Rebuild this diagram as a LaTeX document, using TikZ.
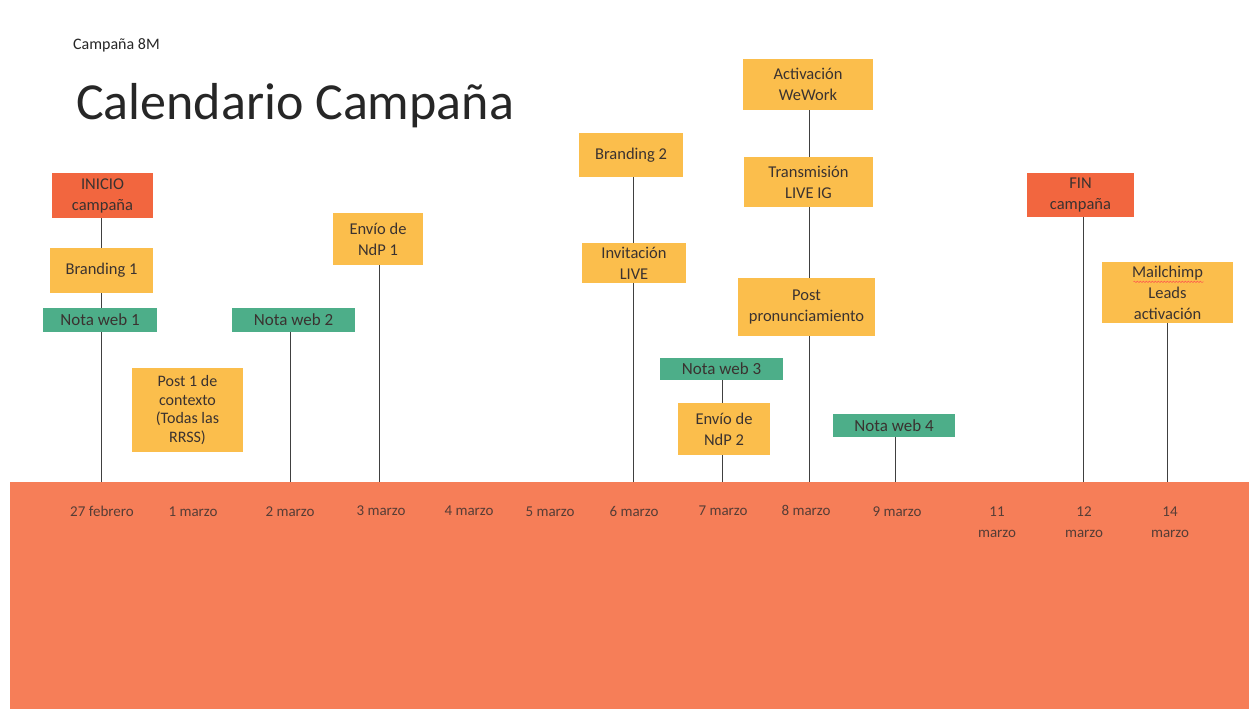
\documentclass[tikz,border=0pt]{standalone}
\usepackage{fontspec}
\setmainfont{Carlito}
\usetikzlibrary{decorations.pathmorphing}
\definecolor{band}{HTML}{F67E58}
\definecolor{redbox}{HTML}{F2663F}
\definecolor{ybox}{HTML}{FBBE4C}
\definecolor{gbox}{HTML}{4DAE89}
\definecolor{txt}{HTML}{3A3230}
\definecolor{conncol}{HTML}{404040}
\begin{document}
\begin{tikzpicture}[x=1pt,y=-1pt,
  box/.style={inner sep=0pt, align=center, text=txt,
    font=\fontsize{16.5}{21}\selectfont},
  yb/.style={box, fill=ybox},
  rb/.style={box, fill=redbox},
  gb/.style={box, fill=gbox, font=\fontsize{17}{19}\selectfont},
  conn/.style={draw=conncol, line width=0.9pt},
  date/.style={text=txt!85!band, align=center, font=\fontsize{15}{21}\selectfont}]
\useasboundingbox (0,0) rectangle (1249,709);
\fill[white] (0,0) rectangle (1249,709);
% band
\fill[band] (10,482) rectangle (1249,709);
% titles
\node[anchor=base west, inner sep=0pt, text=black!85, font=\fontsize{16}{18}\selectfont] (sub) at (73,50) {Campaña 8M};
\node[anchor=base west, inner sep=0pt, text=black!85, font=\fontsize{52}{56}\selectfont] (title) at (76,119) {Calendario Campaña};
% axis coordinates
\coordinate (t27) at (101,482);
\coordinate (t2) at (290,482);
\coordinate (t3) at (379,482);
\coordinate (t6) at (633,482);
\coordinate (t7) at (722,482);
\coordinate (t8) at (809,482);
\coordinate (t9) at (895,482);
\coordinate (t12) at (1083,482);
\coordinate (t14) at (1167,482);
% boxes
\node[rb, minimum width=101, minimum height=45] (inicio) at (102.5,195.5) {INICIO\\campaña};
\node[yb, minimum width=103, minimum height=45] (br1) at (101.5,270.5) {Branding 1};
\node[gb, minimum width=114, minimum height=24] (nw1) at (100,320) {Nota web 1};
\node[yb, minimum width=111, minimum height=84, font=\fontsize{16}{18.5}\selectfont] (post1) at (187.5,410) {Post 1 de\\contexto\\(Todas las\\RRSS)};
\node[gb, minimum width=123, minimum height=24] (nw2) at (293.5,320) {Nota web 2};
\node[yb, minimum width=90, minimum height=52] (ndp1) at (378,239) {Envío de\\NdP 1};
\node[yb, minimum width=104, minimum height=44] (br2) at (631,155) {Branding 2};
\node[yb, minimum width=104, minimum height=40] (inv) at (634,263) {Invitación\\LIVE};
\node[yb, minimum width=130, minimum height=51] (act) at (808,84.5) {Activación\\WeWork};
\node[yb, minimum width=129, minimum height=50] (trans) at (808.5,182) {Transmisión\\LIVE IG};
\node[yb, minimum width=137, minimum height=58] (postp) at (806.5,307) {Post\\pronunciamiento};
\node[gb, minimum width=123, minimum height=22] (nw3) at (721.5,369) {Nota web 3};
\node[yb, minimum width=92, minimum height=52] (ndp2) at (724,429) {Envío de\\NdP 2};
\node[gb, minimum width=122, minimum height=23] (nw4) at (894,425.5) {Nota web 4};
\node[rb, minimum width=107, minimum height=44] (fin) at (1080.5,195) {FIN\\campaña};
\node[yb, minimum width=131, minimum height=61] (mail) at (1167.5,292.5) {Mailchimp\\Leads\\activación};
% spell-check squiggle under "Mailchimp"
\draw[red!70, line width=0.45pt, decorate, decoration={snake, amplitude=0.7pt, segment length=3pt}]
  ([xshift=-34pt, yshift=-20pt]mail.north) -- ([xshift=36pt, yshift=-20pt]mail.north);
% connectors
\draw[conn] (inicio.south -| t27) -- (br1.north -| t27);
\draw[conn] (br1.south -| t27) -- (nw1.north -| t27);
\draw[conn] (nw1.south -| t27) -- (t27);
\draw[conn] (nw2.south -| t2) -- (t2);
\draw[conn] (ndp1.south -| t3) -- (t3);
\draw[conn] (br2.south -| t6) -- (inv.north -| t6);
\draw[conn] (inv.south -| t6) -- (t6);
\draw[conn] (act.south -| t8) -- (trans.north -| t8);
\draw[conn] (trans.south -| t8) -- (postp.north -| t8);
\draw[conn] (postp.south -| t8) -- (t8);
\draw[conn] (nw3.south -| t7) -- (ndp2.north -| t7);
\draw[conn] (ndp2.south -| t7) -- (t7);
\draw[conn] (nw4.south -| t9) -- (t9);
\draw[conn] (fin.south -| t12) -- (t12);
\draw[conn] (mail.south -| t14) -- (t14);
% dates
\node[date, anchor=base] (d27) at (102,516) {27 febrero};
\node[date, anchor=base] (d1) at (193,516) {1 marzo};
\node[date, anchor=base] (d2) at (290,516) {2 marzo};
\node[date, anchor=base] (d3) at (381,515) {3 marzo};
\node[date, anchor=base] (d4) at (469,515) {4 marzo};
\node[date, anchor=base] (d5) at (550,516) {5 marzo};
\node[date, anchor=base] (d6) at (634,516) {6 marzo};
\node[date, anchor=base] (d7) at (723,515) {7 marzo};
\node[date, anchor=base] (d8) at (806,515) {8 marzo};
\node[date, anchor=base] (d9) at (897,516) {9 marzo};
\node[date, anchor=base] (d11) at (997,537) {11\\marzo};
\node[date, anchor=base] (d12) at (1084,537) {12\\marzo};
\node[date, anchor=base] (d14) at (1170,537) {14\\marzo};
\end{tikzpicture}
\end{document}
